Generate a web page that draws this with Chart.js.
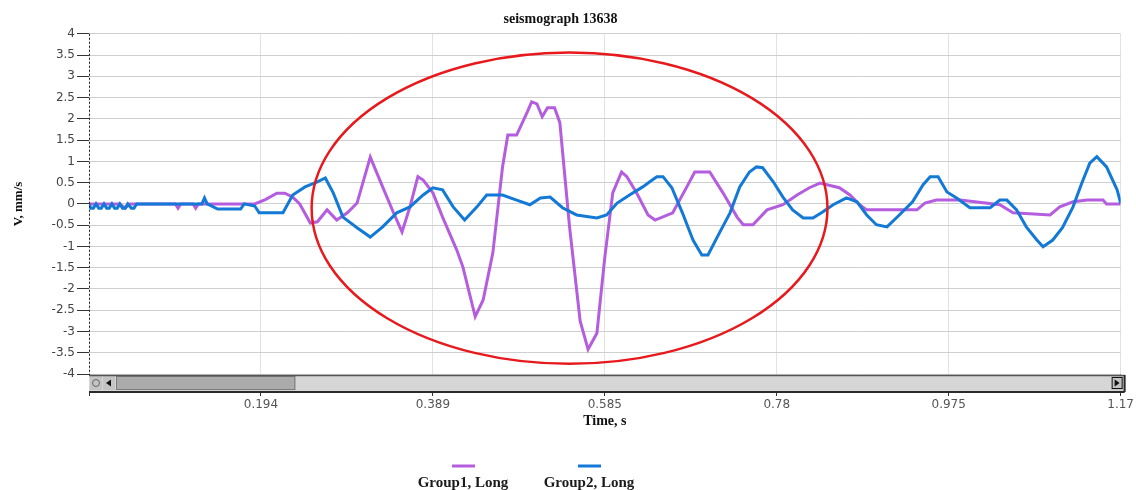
<!DOCTYPE html>
<html>
<head>
<meta charset="utf-8">
<title>seismograph 13638</title>
<script src="https://cdn.jsdelivr.net/npm/chart.js@4.4.1/dist/chart.umd.min.js"></script>
<style>
  html, body { margin: 0; padding: 0; background: #fff; }
  #wrap { width: 1136px; height: 490px; }
</style>
</head>
<body>
<div id="wrap"><canvas id="seismo" width="1136" height="490"></canvas></div>
<script>
// time axis (s)
const xTickValues = [0, 0.195, 0.39, 0.585, 0.78, 0.975, 1.17];
const xTickLabels = ['', '0.194', '0.389', '0.585', '0.78', '0.975', '1.17'];

// Group1, Long (purple)
const g1Time = [0, 0.035, 0.041, 0.046, 0.098, 0.101, 0.104, 0.118, 0.121, 0.124,
  0.188, 0.200, 0.213, 0.222, 0.231, 0.239, 0.251, 0.259, 0.270, 0.281, 0.293, 0.304,
  0.319, 0.333, 0.345, 0.355, 0.364, 0.373, 0.379, 0.390, 0.401, 0.417, 0.424, 0.438,
  0.447, 0.458, 0.469, 0.475, 0.485, 0.497, 0.502, 0.508, 0.514, 0.520, 0.528, 0.534,
  0.545, 0.557, 0.566, 0.576, 0.585, 0.594, 0.604, 0.610, 0.621, 0.634, 0.642, 0.662,
  0.678, 0.687, 0.704, 0.719, 0.735, 0.742, 0.753, 0.769, 0.787, 0.803, 0.817, 0.829,
  0.851, 0.863, 0.874, 0.882, 0.939, 0.948, 0.961, 0.988, 1.033, 1.048, 1.090, 1.101,
  1.116, 1.132, 1.150, 1.154, 1.170];
const g1Vel = [0, 0, -0.1, 0, 0, -0.1, 0, 0, -0.1, 0,
  0, 0.1, 0.25, 0.25, 0.16, 0, -0.45, -0.42, -0.14, -0.38, -0.21, 0.02,
  1.1, 0.4, -0.19, -0.66, -0.07, 0.64, 0.56, 0.26, -0.31, -1.08, -1.48, -2.65,
  -2.26, -1.15, 0.87, 1.62, 1.62, 2.16, 2.4, 2.35, 2.05, 2.26, 2.26, 1.91,
  -0.54, -2.75, -3.42, -3.04, -1.25, 0.26, 0.75, 0.64, 0.26, -0.26, -0.38, -0.21,
  0.4, 0.75, 0.75, 0.26, -0.31, -0.49, -0.49, -0.14, -0.02, 0.21, 0.38, 0.49,
  0.38, 0.21, -0.02, -0.14, -0.14, 0.02, 0.09, 0.09, -0.02, -0.21, -0.26, -0.07,
  0.05, 0.09, 0.09, 0, 0];

// Group2, Long (blue)
const g2Time = [0, 0.002, 0.005, 0.008, 0.011, 0.014, 0.017, 0.020, 0.023, 0.026,
  0.029, 0.032, 0.035, 0.038, 0.041, 0.044, 0.048, 0.051, 0.054, 0.075,
  0.078, 0.128, 0.131, 0.134, 0.146, 0.172, 0.176, 0.188, 0.193, 0.220,
  0.231, 0.245, 0.259, 0.268, 0.277, 0.288, 0.304, 0.319, 0.333, 0.349,
  0.364, 0.379, 0.390, 0.401, 0.413, 0.426, 0.440, 0.451, 0.469, 0.485,
  0.500, 0.512, 0.523, 0.537, 0.553, 0.576, 0.587, 0.599, 0.613, 0.628,
  0.636, 0.644, 0.651, 0.661, 0.673, 0.685, 0.695, 0.702, 0.715, 0.727,
  0.738, 0.749, 0.757, 0.764, 0.776, 0.787, 0.798, 0.810, 0.821, 0.832,
  0.844, 0.859, 0.871, 0.882, 0.893, 0.905, 0.919, 0.934, 0.946, 0.954,
  0.963, 0.973, 0.984, 0.999, 1.022, 1.033, 1.041, 1.052, 1.063, 1.075,
  1.082, 1.093, 1.104, 1.116, 1.126, 1.135, 1.143, 1.154, 1.166, 1.170];
const g2Vel = [0, -0.1, -0.1, 0, -0.1, -0.1, 0, -0.1, -0.1, 0,
  -0.1, -0.1, 0, -0.1, -0.1, 0, -0.1, -0.1, 0, 0,
  0, 0, 0.14, 0, -0.12, -0.12, 0, -0.05, -0.21, -0.21,
  0.21, 0.40, 0.52, 0.61, 0.26, -0.31, -0.56, -0.78, -0.54, -0.21,
  -0.07, 0.21, 0.38, 0.33, -0.07, -0.38, -0.07, 0.21, 0.21, 0.09,
  -0.02, 0.14, 0.16, -0.09, -0.26, -0.33, -0.26, 0.02, 0.21, 0.40,
  0.52, 0.64, 0.64, 0.38, -0.21, -0.85, -1.20, -1.20, -0.68, -0.21,
  0.40, 0.75, 0.87, 0.85, 0.52, 0.16, -0.14, -0.33, -0.33, -0.19,
  -0.02, 0.14, 0.05, -0.26, -0.49, -0.54, -0.26, 0.05, 0.45, 0.64,
  0.64, 0.28, 0.14, -0.09, -0.09, 0.09, 0.09, -0.14, -0.54, -0.85,
  -1.01, -0.85, -0.56, -0.07, 0.49, 0.96, 1.11, 0.87, 0.33, 0.02];

// red ring drawn around the main event, in data units (s, mm/s)
const ringCenter = [0.545, -0.1];
const ringRadius = [0.2925, 3.66];

const PURPLE = '#b45ddf';
const BLUE = '#1279d6';
const serif = "'Liberation Serif', 'Times New Roman', serif";
const sans = "'DejaVu Sans', Tahoma, sans-serif";

function toPoints(ts, vs) {
  return ts.map((t, i) => ({ x: t, y: vs[i] }));
}

/* ===== PLUGINS ===== */
const ringPlugin = {
  id: 'ring',
  afterDatasetsDraw(chart) {
    const xs = chart.scales.x, ys = chart.scales.y, ctx = chart.ctx;
    const cx = xs.getPixelForValue(ringCenter[0]);
    const cy = ys.getPixelForValue(ringCenter[1]);
    const rx = xs.getPixelForValue(ringCenter[0] + ringRadius[0]) - cx;
    const ry = cy - ys.getPixelForValue(ringCenter[1] + ringRadius[1]);
    ctx.save();
    ctx.strokeStyle = '#e8191c';
    ctx.lineWidth = 2.5;
    ctx.beginPath();
    ctx.ellipse(cx, cy, rx, ry, 0, 0, Math.PI * 2);
    ctx.stroke();
    ctx.restore();
  }
};

// fake scroll bar under the plot + dotted value axis, like the original viewer
const scrollPlugin = {
  id: 'scrollbar',
  afterDraw(chart) {
    const ctx = chart.ctx;
    const { left, right, top: areaTop, bottom } = chart.chartArea;
    const top = bottom + 1, h = 16, end = right + 4;
    ctx.save();
    // dotted y axis line
    ctx.strokeStyle = '#222';
    ctx.lineWidth = 1;
    ctx.setLineDash([2, 2]);
    ctx.beginPath();
    ctx.moveTo(left + 0.5, areaTop);
    ctx.lineTo(left + 0.5, top + h + 2);
    ctx.stroke();
    ctx.setLineDash([]);

    ctx.fillStyle = '#d6d6d6';
    ctx.fillRect(left, top, end - left, h);
    // thumb
    const thumbL = left + 27, thumbR = left + (right - left) * 0.2;
    ctx.fillStyle = '#ababab';
    ctx.fillRect(thumbL, top + 1, thumbR - thumbL, h - 2);
    ctx.strokeStyle = '#7a7a7a';
    ctx.strokeRect(thumbL + 0.5, top + 1.5, thumbR - thumbL - 1, h - 3);
    // left buttons
    ctx.fillStyle = '#c4c4c4';
    ctx.fillRect(left + 1, top + 1, 12, h - 2);
    ctx.fillRect(left + 14, top + 1, 12, h - 2);
    ctx.strokeStyle = '#666';
    ctx.beginPath();
    ctx.arc(left + 7, top + h / 2, 3.5, 0, Math.PI * 2);
    ctx.stroke();
    ctx.fillStyle = '#111';
    ctx.beginPath();
    ctx.moveTo(left + 17, top + h / 2);
    ctx.lineTo(left + 22, top + h / 2 - 3.5);
    ctx.lineTo(left + 22, top + h / 2 + 3.5);
    ctx.closePath();
    ctx.fill();
    // right button
    ctx.fillStyle = '#c4c4c4';
    ctx.fillRect(end - 13, top + 1, 12, h - 2);
    ctx.strokeStyle = '#111';
    ctx.strokeRect(end - 12.5, top + 2.5, 10, h - 5);
    ctx.fillStyle = '#111';
    ctx.beginPath();
    ctx.moveTo(end - 5, top + h / 2);
    ctx.lineTo(end - 10, top + h / 2 - 3.5);
    ctx.lineTo(end - 10, top + h / 2 + 3.5);
    ctx.closePath();
    ctx.fill();
    // frame
    ctx.strokeStyle = '#555';
    ctx.lineWidth = 1.5;
    ctx.beginPath();
    ctx.moveTo(left, top + 0.5);
    ctx.lineTo(end, top + 0.5);
    ctx.stroke();
    ctx.strokeStyle = '#2a2a2a';
    ctx.lineWidth = 2;
    ctx.beginPath();
    ctx.moveTo(left, top + h + 1);
    ctx.lineTo(end, top + h + 1);
    ctx.moveTo(end, top);
    ctx.lineTo(end, top + h + 1);
    ctx.stroke();
    ctx.restore();
  }
};

// legend: short line above each label
const legendSpots = [463, 589];
const legendPlugin = {
  id: 'lineLegend',
  afterDraw(chart) {
    const ctx = chart.ctx;
    ctx.save();
    ctx.font = 'bold 15px ' + serif;
    ctx.textAlign = 'center';
    ctx.textBaseline = 'middle';
    chart.data.datasets.forEach((ds, i) => {
      const cx = legendSpots[i];
      ctx.strokeStyle = ds.borderColor;
      ctx.lineWidth = 3;
      ctx.beginPath();
      ctx.moveTo(cx - 11, 466);
      ctx.lineTo(cx + 12, 466);
      ctx.stroke();
      ctx.fillStyle = '#1a1a1a';
      ctx.fillText(ds.label, cx, 483);
    });
    ctx.restore();
  }
};

new Chart(document.getElementById('seismo'), {
  type: 'line',
  data: {
    datasets: [{
      label: 'Group1, Long',
      data: toPoints(g1Time, g1Vel),
      borderColor: PURPLE,
      borderWidth: 3,
      pointRadius: 0,
      tension: 0,
      order: 1
    }, {
      label: 'Group2, Long',
      data: toPoints(g2Time, g2Vel),
      borderColor: BLUE,
      borderWidth: 3,
      pointRadius: 0,
      tension: 0,
      order: 0
    }]
  },
  options: {
    responsive: false,
    animation: false,
    layout: { padding: { left: 0, right: 15, top: 0, bottom: 60 } },
    plugins: {
      legend: { display: false },
      tooltip: { enabled: false },
      title: {
        display: true,
        text: 'seismograph 13638',
        color: '#111',
        font: { family: serif, size: 14, weight: 'bold' },
        padding: { top: 11, bottom: 6 }
      }
    },
    scales: {
      x: {
        type: 'linear',
        min: 0,
        max: 1.17,
        afterBuildTicks: s => { s.ticks = xTickValues.map(v => ({ value: v })); },
        afterFit: s => { s.height = 56; },
        ticks: {
          callback: (v, i) => xTickLabels[i],
          color: '#555',
          font: { family: sans, size: 12 },
          padding: 2,
          maxRotation: 0,
          autoSkip: false
        },
        grid: { color: '#e2e2e2', tickLength: 22, tickColor: '#333' },
        border: { display: false },
        title: {
          display: true,
          text: 'Time, s',
          color: '#111',
          font: { family: serif, size: 14, weight: 'bold' },
          padding: { top: 0, bottom: 0 }
        }
      },
      y: {
        min: -4,
        max: 4,
        afterFit: s => { s.width = 89; },
        ticks: {
          stepSize: 0.5,
          callback: v => String(v),
          color: '#444',
          font: { family: sans, size: 12 },
          padding: 2
        },
        grid: { color: '#cfcfcf', tickLength: 12, tickColor: '#333' },
        border: { display: false },
        title: {
          display: true,
          text: 'V, mm/s',
          color: '#111',
          font: { family: serif, size: 13, weight: 'bold' },
          padding: { top: 11, bottom: 0 }
        }
      }
    }
  },
  plugins: [ringPlugin, scrollPlugin, legendPlugin]
});
</script>
</body>
</html>
